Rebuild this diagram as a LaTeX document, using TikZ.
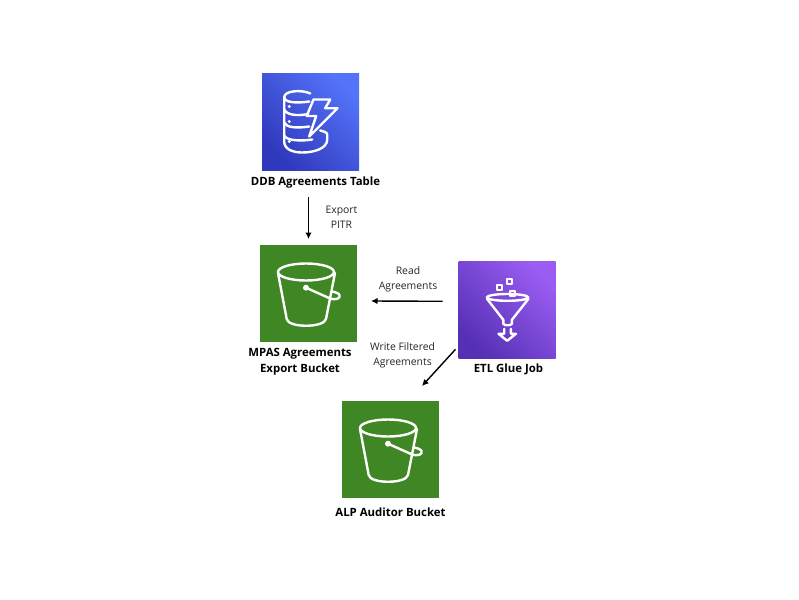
\documentclass[tikz,border=0pt]{standalone}
\usepackage{fontspec}
\setmainfont{Open Sans}
\usetikzlibrary{arrows.meta}

\definecolor{s3green}{HTML}{3F8624}
\definecolor{ddblow}{HTML}{3038BC}
\definecolor{ddbhigh}{HTML}{5373F8}
\definecolor{gluelow}{HTML}{5530B4}
\definecolor{gluehigh}{HTML}{9A5CF2}

\tikzset{
  iconbox/.style={minimum size=97pt,inner sep=0pt,outer sep=0pt},
  bucketbox/.style={iconbox,fill=s3green},
  ddbbox/.style={iconbox,shading=axis,left color=ddbhigh,right color=ddblow,shading angle=-45},
  gluebox/.style={iconbox,shading=axis,left color=gluehigh,right color=gluelow,shading angle=-45},
  iconline/.style={draw=white,line width=2.4pt,line join=round,line cap=round},
  boxlabel/.style={font=\bfseries\fontsize{11.4}{16}\selectfont,align=center,text=black,inner sep=0pt},
  edgelabel/.style={font=\fontsize{10.4}{15}\selectfont,align=center,text=black!85,inner sep=0pt},
  flow/.style={-{Latex[length=6.5pt,width=6.5pt]},line width=1.4pt,black},
  bucket icon/.pic={
    \draw[iconline] (46,27) ellipse (28 and 8.5);
    \draw[iconline] (18,28) -- (26.7,74) .. controls (28,83) and (64,83) .. (66,74) -- (75,28);
    \fill[white] (46,42.7) circle (3);
    \draw[iconline] (46,42.7) -- (69,53) .. controls (76,56) and (81,53) .. (79.5,50)
      .. controls (78.5,48) and (75,47) .. (71.5,46.5);
  },
  table icon/.pic={
    % stacked discs
    \draw[iconline] (48,20) .. controls (40,16) and (22,17) .. (22,23.7) .. controls (22,29) and (34,30) .. (47,28);
    \draw[iconline] (22,23.7) -- (22,68) .. controls (22,76) and (31,79) .. (40,79)
      .. controls (52,79) and (65,75) .. (65,66) -- (65,61) .. controls (65,59) and (62,58) .. (58,57);
    \draw[iconline] (22,36) .. controls (24,41) and (34,43) .. (46,40.5);
    \draw[iconline] (22,49) .. controls (24,54) and (34,55) .. (47,53);
    \draw[iconline] (22,62) .. controls (24,67) and (38,68) .. (50,66);
    \foreach \doty in {33,48,68}
      \fill[white] (27,\doty) circle (1.7);
    % bolt
    \draw[iconline] (51.3,26) -- (68,26) -- (63,34.7) -- (75.3,34.7)
      -- (47,63) -- (54,42.5) -- (44.5,42.5) -- cycle;
  },
  funnel icon/.pic={
    \draw[iconline] (49,35.6) ellipse (20.7 and 3.4);
    \draw[iconline] (28.5,37) -- (44.8,58) -- (44.8,62) .. controls (46,64) and (52,64) .. (53.4,62)
      -- (53.4,58) -- (70,37);
    \draw[iconline] (45.7,67) -- (45.7,72) -- (40,72) -- (48.7,79) -- (57.4,72) -- (52.4,72) -- (52.4,67);
    \foreach \sqx/\sqy in {40.7/26,51/19.6,54/32}
      \draw[iconline,line width=2pt] (\sqx-2.6,\sqy-2.6) rectangle (\sqx+2.6,\sqy+2.6);
  }
}

\begin{document}
\begin{tikzpicture}[x=1pt,y=-1pt]
\useasboundingbox (0,0) rectangle (799,599);

% Draw the service boxes
\node[ddbbox] (ddb) at (310.7,122) {};
\node[bucketbox] (mpas) at (308.5,293.5) {};
\node[gluebox] (glue) at (507,310.3) {};
\node[bucketbox] (alp) at (390.5,449.5) {};

\pic at (ddb.north west) {table icon};
\pic at (mpas.north west) {bucket icon};
\pic at (glue.north west) {funnel icon};
\pic at (alp.north west) {bucket icon};

% Annotate the boxes
\node[boxlabel] (ddblabel) at (315.5,182.5) {DDB Agreements Table};
\node[boxlabel] (mpaslabel) at (300,361.5) {MPAS Agreements\\Export Bucket};
\node[boxlabel] (gluelabel) at (508.5,369.5) {ETL Glue Job};
\node[boxlabel] (alplabel) at (390.5,512) {ALP Auditor Bucket};

% Annotate the connectors
\node[edgelabel] (exportlabel) at (341.5,217) {Export\\PITR};
\node[edgelabel] (readlabel) at (408,279.5) {Read\\Agreements};
\node[edgelabel] (writelabel) at (402.5,355.5) {Write Filtered\\Agreements};

% Connect the boxes
\draw[flow] ([yshift=-9pt]ddblabel.south -| mpas.north) -- ([yshift=6pt]mpas.north);
\draw[flow] ([xshift=-16pt,yshift=9pt]glue.west) -- ([xshift=14pt,yshift=-7.5pt]mpas.east);
\draw[flow] ([xshift=-3pt,yshift=9.5pt]glue.south west) -- ([xshift=-17pt,yshift=15pt]alp.north east);
\end{tikzpicture}
\end{document}
